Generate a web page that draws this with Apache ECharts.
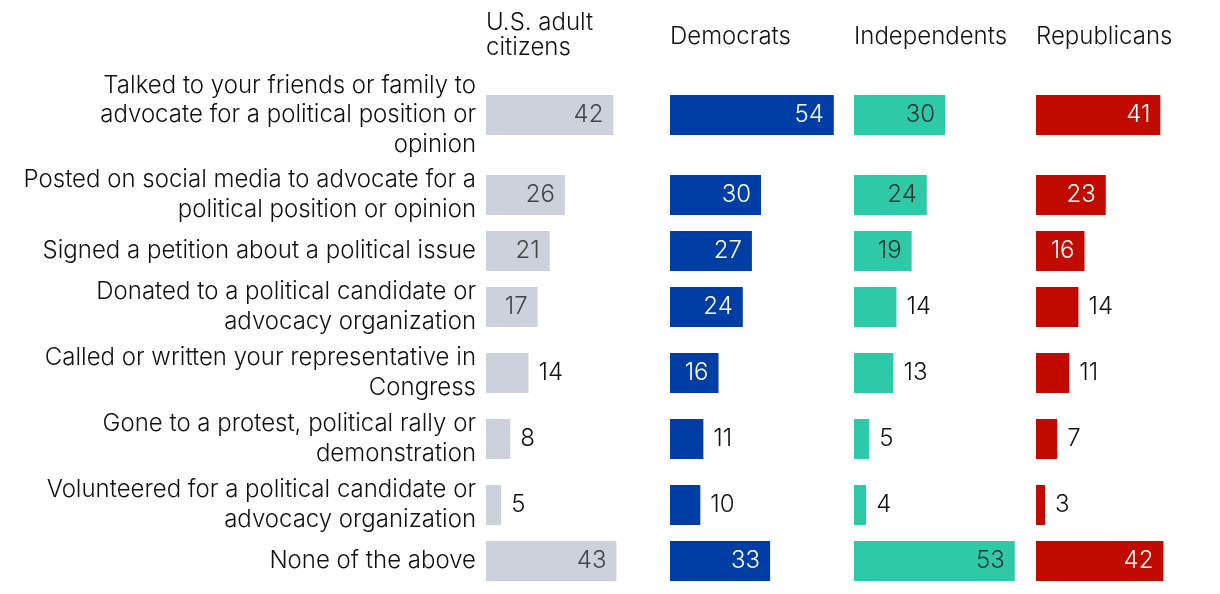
<!DOCTYPE html>
<html><head><meta charset="utf-8">
<script src="https://cdn.jsdelivr.net/npm/echarts@6/dist/echarts.min.js"></script>
<style>html,body{margin:0;padding:0;background:#fff}#c{width:1220px;height:594px}</style>
</head><body><div id="c"></div>
<script>
const categories = [
  'Talked to your friends or family to\nadvocate for a political position or\nopinion',
  'Posted on social media to advocate for a\npolitical position or opinion',
  'Signed a petition about a political issue',
  'Donated to a political candidate or\nadvocacy organization',
  'Called or written your representative in\nCongress',
  'Gone to a protest, political rally or\ndemonstration',
  'Volunteered for a political candidate or\nadvocacy organization',
  'None of the above'
];
const groupNames = ['U.S. adult\ncitizens', 'Democrats', 'Independents', 'Republicans'];
const usAdults     = [42, 26, 21, 17, 14, 8, 5, 43];
const democrats    = [54, 30, 27, 24, 16, 11, 10, 33];
const independents = [30, 24, 19, 14, 13, 5, 4, 53];
const republicans  = [41, 23, 16, 14, 11, 7, 3, 42];

(function () {
const seriesValues = [usAdults, democrats, independents, republicans];
const FONT = 'Inter';
const FS = 24;
const FW = 300;
const panelLeft = [486, 670, 854, 1036];
const panelWidth = 182;
const barColors = ['#cdd1dc', '#003da5', '#2ecaa8', '#c20b00'];
const insideText = ['#444', '#fff', '#333', '#fff'];
const rowH = {1: 46, 2: 66, 3: 94};

const grids = [], xAxes = [], yAxes = [], series = [];
let rowTop = 68;
categories.forEach((cat, r) => {
  const lines = cat.split('\n').length;
  const h = rowH[lines];
  for (let p = 0; p < 4; p++) {
    const idx = grids.length;
    grids.push({left: panelLeft[p], width: panelWidth, top: rowTop, height: h});
    xAxes.push({gridIndex: idx, type: 'value', min: 0, max: 60, show: false});
    yAxes.push({gridIndex: idx, type: 'category', data: [cat],
      axisLine: {show: false}, axisTick: {show: false}, splitLine: {show: false},
      axisLabel: {show: p === 0, margin: 10, align: 'right', fontFamily: FONT, fontSize: FS,
        fontWeight: FW, color: '#111', lineHeight: 29.5}});
    const v = seriesValues[p][r];
    const inside = v >= 15;
    series.push({type: 'bar', xAxisIndex: idx, yAxisIndex: idx, barWidth: 40,
      itemStyle: {color: barColors[p]}, silent: true,
      data: [{value: v, label: {show: true,
        position: inside ? 'insideRight' : 'right',
        distance: 10,
        color: inside ? insideText[p] : '#111',
        fontFamily: FONT, fontSize: FS, fontWeight: FW}}]});
  }
  rowTop += h;
});

const titles = groupNames.map((g, p) => ({
  text: g, left: panelLeft[p], top: p === 0 ? 10 : 24, padding: 0,
  textStyle: {fontFamily: FONT, fontSize: FS, fontWeight: FW, color: '#111', lineHeight: 25}
}));

const chart = echarts.init(document.getElementById('c'), null, {renderer: 'canvas'});
chart.setOption({animation: false, title: titles, grid: grids, xAxis: xAxes, yAxis: yAxes, series: series});
})();
</script></body></html>
